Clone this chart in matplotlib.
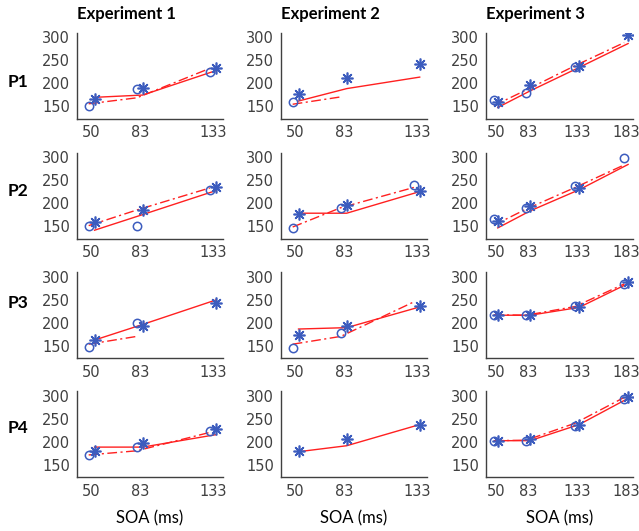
import numpy as np
import matplotlib
matplotlib.use("Agg")
import matplotlib.pyplot as plt

nan = np.nan

experiments = ["Experiment 1", "Experiment 2", "Experiment 3"]
participants = ["P1", "P2", "P3", "P4"]
soa_short = [50, 83, 133]
soa_long = [50, 83, 133, 183]

# Experiment 1
e1_circ = [[150, 188, 224], [150, 150, 229], [146, 199, nan], [170, 188, 222]]
e1_ast = [[165, 190, 233], [159, 185, 236], [162, 192, 243], [180, 197, 228]]
e1_solid = [[169, 174, 227], [141, 175, 227], [162, 196, 249], [188, 188, 215]]
e1_dd = [[155, 168, 232], [151, 185, 233], [153, 170, nan], [171, 180, 220]]

# Experiment 2
e2_circ = [[159, nan, nan], [146, 190, 239], [145, 177, nan], [nan, nan, nan]]
e2_ast = [[176, 210, 242], [176, 195, 227], [173, 192, 236], [180, 205, 236]]
e2_solid = [[161, 188, 213], [178, 178, 225], [186, 189, 234], [178, 191, 237]]
e2_dd = [[154, 170, nan], [148, 190, 234], [153, 170, 245], [nan, nan, nan]]

# Experiment 3
e3_circ = [[163, 179, 235, nan], [165, 189, 238, 299], [216, 216, 236, 283], [202, 202, 233, 293]]
e3_ast = [[159, 195, 237, 304], [161, 194, 233, nan], [216, 216, 233, 289], [202, 206, 237, 298]]
e3_solid = [[147, 183, 234, 286], [146, 183, 229, 284], [216, 216, 233, 285], [202, 202, 237, 294]]
e3_dd = [[151, 185, 238, 288], [152, 187, 234, 283], [217, 216, 235, 284], [202, 203, 240, 296]]

exp_data = [
    (soa_short, e1_circ, e1_ast, e1_solid, e1_dd),
    (soa_short, e2_circ, e2_ast, e2_solid, e2_dd),
    (soa_long, e3_circ, e3_ast, e3_solid, e3_dd),
]

BLUE = "#3c5cbe"
RED = "#ff2020"
GRAY = "#404040"
W, H = 639, 531

fig = plt.figure(figsize=(W / 100, H / 100), dpi=100)

lefts = [77, 281, 486]
widths = [146, 146, 147]
tops = [32.5, 152.5, 272, 391]
ah = 86
xlims = [(40, 140), (40, 140), (40, 190)]

asterisk = (8, 2, 0)
off = 2

for c, (xs, circ, ast, solid, dd) in enumerate(exp_data):
    xs = np.array(xs, dtype=float)
    for r in range(4):
        ax = fig.add_axes([lefts[c] / W, 1 - (tops[r] + ah) / H, widths[c] / W, ah / H])
        ax.plot(xs + off, solid[r], color=RED, lw=1.0, zorder=2)
        ax.plot(xs - off, dd[r], color=RED, lw=1.0, ls=(0, (7, 2.5, 1.5, 2.5)), zorder=2)
        ax.plot(xs - off, circ[r], ls="none", marker="o", ms=6, mfc="none", mec=BLUE, mew=1.1, zorder=3)
        ax.plot(xs + off, ast[r], ls="none", marker=asterisk, ms=8.5, mec=BLUE, mfc=BLUE, mew=1.2, zorder=3)
        ax.set_xlim(*xlims[c])
        ax.set_ylim(123, 310)
        ax.set_xticks(xs)
        ax.set_xticklabels([str(int(v)) for v in xs])
        ax.set_yticks([150, 200, 250, 300])
        for s in ["top", "right"]:
            ax.spines[s].set_visible(False)
        for s in ["left", "bottom"]:
            ax.spines[s].set_color(GRAY)
            ax.spines[s].set_linewidth(1.0)
        ax.tick_params(length=0, labelsize=10.5, labelcolor=GRAY, pad=5)
        ax.patch.set_alpha(0)
        if r == 0:
            ax.text(0.0, 1.22, experiments[c], transform=ax.transAxes, fontsize=12,
                    fontweight="bold", family="Lato", ha="left", va="center")
        if r == 3:
            ax.set_xlabel("SOA (ms)", fontsize=12, family="Lato", color="black", labelpad=8)

row_label_y = [82, 191, 303, 428]
for r, lab in enumerate(participants):
    fig.text(18 / W, 1 - row_label_y[r] / H, lab, fontsize=12.5, fontweight="bold",
             family="Lato", ha="center", va="center")

fig.savefig("out.png", dpi=100)
